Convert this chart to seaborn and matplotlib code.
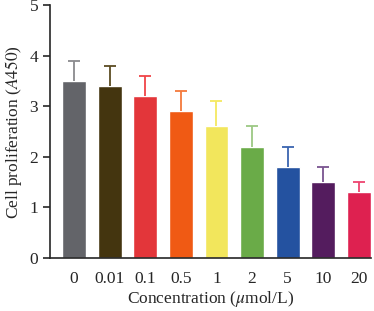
import matplotlib
matplotlib.use("Agg")
import matplotlib.pyplot as plt
import numpy as np
import pandas as pd
import seaborn as sns

# Data
concentrations = ["0", "0.01", "0.1", "0.5", "1", "2", "5", "10", "20"]
means = [3.5, 3.4, 3.2, 2.9, 2.6, 2.2, 1.8, 1.5, 1.3]
errors = [0.4, 0.4, 0.4, 0.4, 0.5, 0.4, 0.4, 0.3, 0.2]

bar_colors = ["#636469", "#44350f", "#e3363a", "#f05a14", "#f2e65c",
              "#6aab48", "#2452a0", "#541c5e", "#de2150"]
err_colors = ["#8a8a8e", "#5c4c22", "#f04448", "#f57a3c", "#f5e860",
              "#9cc884", "#3a64b0", "#7a5490", "#ee4470"]

df = pd.DataFrame({"conc": concentrations, "val": means})

sns.set_style("ticks")
plt.rcParams["font.family"] = ["Liberation Serif", "DejaVu Serif"]
plt.rcParams["mathtext.fontset"] = "stix"

fig = plt.figure(figsize=(3.74, 3.11), dpi=100)
ax = fig.add_axes([0.134, 0.170, 0.858, 0.814])

sns.barplot(data=df, x="conc", y="val", hue="conc", palette=bar_colors,
            order=concentrations, legend=False, width=0.67, ax=ax,
            saturation=1, errorbar=None)

# upper-only error bars, each in a lighter shade of its bar
for i, (m, e) in enumerate(zip(means, errors)):
    ax.vlines(i, m, m + e, color=err_colors[i], lw=1.3, zorder=3)
    ax.hlines(m + e, i - 0.17, i + 0.17, color=err_colors[i], lw=1.3, zorder=3)

ax.set_ylim(0, 5)
ax.set_xlim(-0.67, 8.34)
ax.set_yticks([0, 1, 2, 3, 4, 5])
ax.tick_params(axis="x", length=0, pad=9, labelsize=12.5)
ax.tick_params(axis="y", length=5, width=1.2, labelsize=12.5)
ax.set_xlabel(r"Concentration ($\mu$mol/L)", fontsize=12.5, labelpad=2)
ax.set_ylabel(r"Cell proliferation ($A450$)", fontsize=12.5)
for s in ["left", "bottom"]:
    ax.spines[s].set_linewidth(1.2)
sns.despine(ax=ax)

fig.savefig("out.png", dpi=100)
